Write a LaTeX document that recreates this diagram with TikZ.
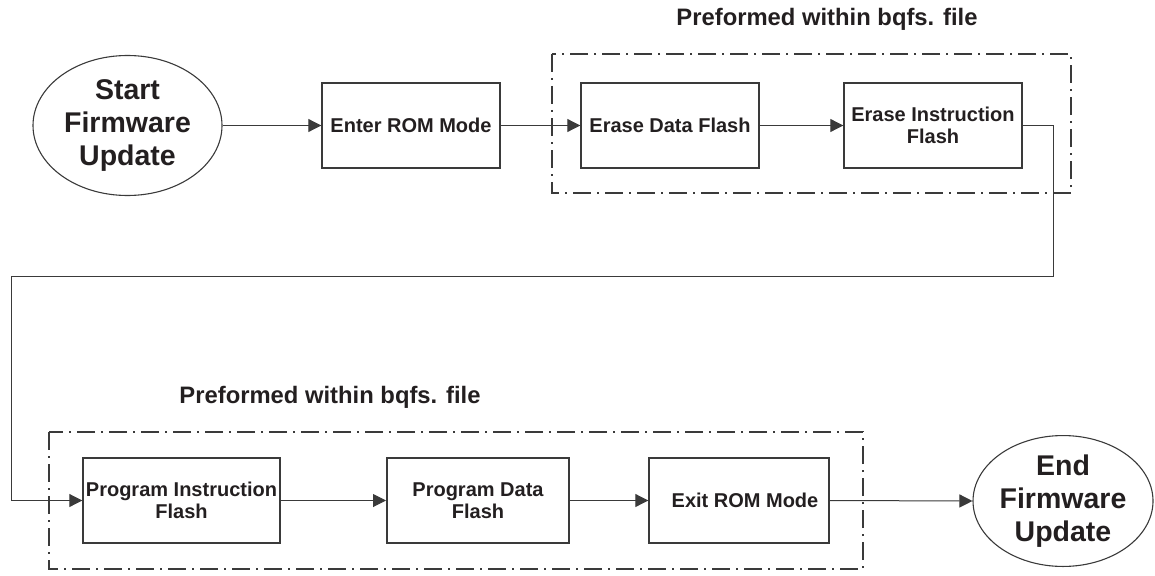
\documentclass[tikz,border=0pt]{standalone}
\usepackage{fontspec}
\setmainfont{Liberation Sans}
\usetikzlibrary{shapes.geometric,arrows.meta}
\definecolor{txt}{HTML}{231F20}
\definecolor{ln}{HTML}{3A3A3A}
\begin{document}
\begin{tikzpicture}[x=1pt,y=-1pt,
  stepbox/.style={draw=ln,line width=1.4pt,rectangle,inner sep=0pt,
    minimum height=85pt,text=txt,align=center,
    font=\bfseries\fontsize{20}{22}\selectfont},
  termnode/.style={draw=ln,line width=1.1pt,ellipse,inner sep=0pt,text=txt,align=center,
    font=\bfseries\fontsize{28.5}{33}\selectfont},
  groupbox/.style={draw=ln,line width=1.2pt,dash pattern=on 18pt off 6pt on 2pt off 6pt},
  grouplabel/.style={text=txt,font=\bfseries\fontsize{23.8}{26}\selectfont,inner sep=0pt},
  flow/.style={draw=ln,line width=1pt,-{Triangle[length=13pt,width=13pt]}},
  wire/.style={draw=ln,line width=1pt}]
\useasboundingbox (0,0) rectangle (1155,575);
% group frames
\draw[groupbox] (552,54) rectangle (1071,193);
\draw[groupbox] (49,432) rectangle (863,569);
\node[grouplabel] (lbltop) at (827,19) {Preformed within bqfs. file};
\node[grouplabel] (lblbot) at (330,397) {Preformed within bqfs. file};
% nodes
\node[termnode,minimum width=189pt,minimum height=127pt] (start) at (127.5,125.5) {\raisebox{-2pt}{\begin{tabular}{@{}c@{}}Start\\Firmware\\Update\end{tabular}}};
\node[stepbox,minimum width=178pt] (enter) at (411,125.5) {Enter ROM Mode};
\node[stepbox,minimum width=178pt] (edf) at (670,125.5) {Erase Data Flash};
\node[stepbox,minimum width=178pt] (eif) at (933,125.5) {Erase Instruction\\Flash};
\node[stepbox,minimum width=197pt] (pif) at (181.5,500.5) {Program Instruction\\Flash};
\node[stepbox,minimum width=182pt,line width=2pt] (pdf) at (478,500.5) {Program Data\\Flash};
\node[stepbox,minimum width=180pt] (exit) at (739,500.5) {\hspace*{12pt}Exit ROM Mode};
\node[termnode,minimum width=180pt,minimum height=128pt] (end) at (1063,501) {End\\Firmware\\Update};
% loop coordinates
\coordinate (c2) at (1053,276);
\coordinate (c3) at (11,276);
% connectors
\draw[flow] (start.east) -- (enter.west);
\draw[flow] (enter.east) -- (edf.west);
\draw[flow] (edf.east) -- (eif.west);
\draw[flow] (eif.east) -| (c2) -- (c3) |- (pif.west);
\draw[flow] (pif.east) -- (pdf.west);
\draw[flow] (pdf.east) -- (exit.west);
\draw[flow] (exit.east) -- (end.west);
\end{tikzpicture}
\end{document}
